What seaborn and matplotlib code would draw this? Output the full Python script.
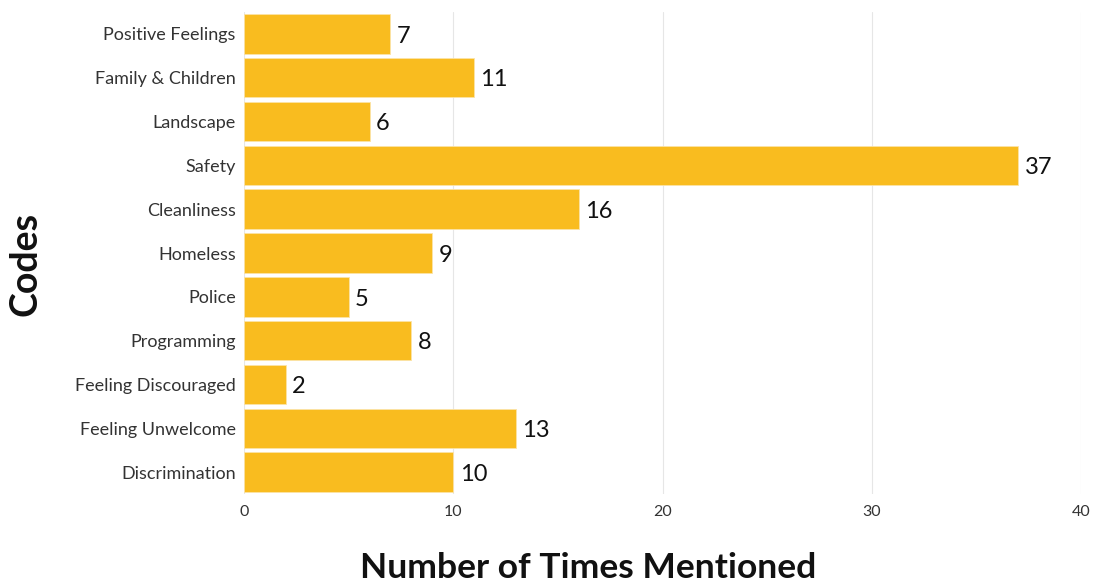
import matplotlib
matplotlib.use("Agg")
import matplotlib.pyplot as plt
import seaborn as sns
import pandas as pd

categories = ["Positive Feelings", "Family & Children", "Landscape", "Safety", "Cleanliness",
              "Homeless", "Police", "Programming", "Feeling Discouraged", "Feeling Unwelcome",
              "Discrimination"]
counts = [7, 11, 6, 37, 16, 9, 5, 8, 2, 13, 10]
x_ticks = [0, 10, 20, 30, 40]

sns.set_theme(style="whitegrid")
plt.rcParams['font.family'] = ['Lato', 'DejaVu Sans']

df = pd.DataFrame({"Code": categories, "Count": counts})

fig = plt.figure(figsize=(10.94, 5.85), dpi=100)
ax = fig.add_axes([244/1094, 1 - 494/585, (1081-244)/1094, (494-12)/585])

sns.barplot(data=df, y="Code", x="Count", order=categories, color="#F9BC1F",
            saturation=1, width=0.9, edgecolor="#FCE3A6", linewidth=0.6, ax=ax)

for i, v in enumerate(counts):
    ax.text(v + 0.3, i + 0.05, str(v), va="center", ha="left", fontsize=17, color="#111111")

ax.set_xlim(0, 40)
ax.set_xticks(x_ticks)
ax.set_xticklabels([str(t) for t in x_ticks], fontsize=11.5, color="#333333")
ax.tick_params(axis="y", labelsize=13, colors="#333333", pad=6, length=0)
ax.tick_params(axis="x", pad=8, length=0)
ax.grid(axis="x", color="#E6E6E6", linewidth=0.8)
ax.grid(axis="y", visible=False)
for s in ax.spines.values():
    s.set_visible(False)
ax.set_xlabel("")
ax.set_ylabel("")
fig.text(588/1094, 1 - 568/585, "Number of Times Mentioned", fontsize=25.5, fontweight="bold",
         color="#111111", ha="center", va="center")
fig.text(25/1094, 1 - 264/585, "Codes", fontsize=27, fontweight="bold", color="#111111",
         ha="center", va="center", rotation=90)

fig.savefig("out.png", dpi=100)
